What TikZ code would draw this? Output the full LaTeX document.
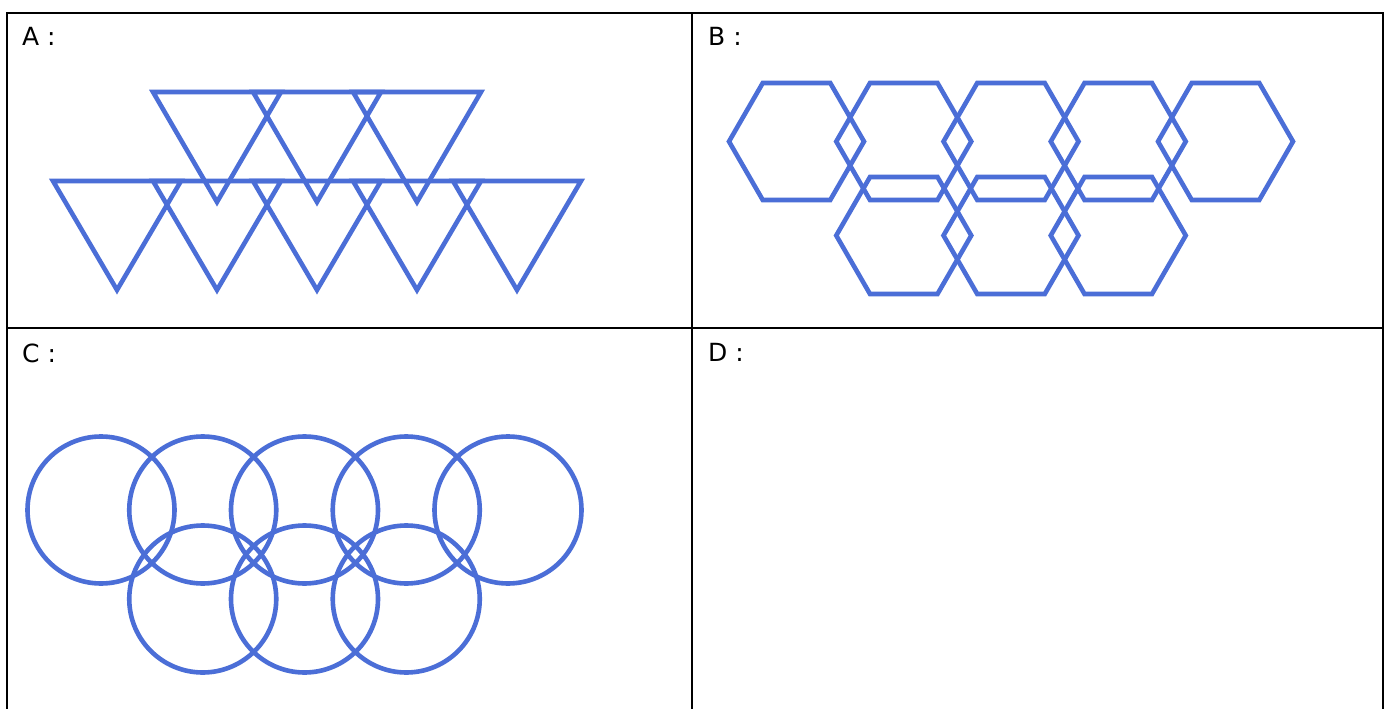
\documentclass[tikz,border=0pt]{standalone}
\usepackage{fontspec}
\setmainfont{DejaVu Sans}
\definecolor{shapeblue}{RGB}{75,110,215}
\begin{document}
\begin{tikzpicture}[x=1pt,y=-1pt,
  figline/.style={draw=shapeblue,line width=4.6pt,line join=miter},
  gridline/.style={draw=black,line width=2pt},
  lab/.style={anchor=base west,inner sep=0pt,font=\fontsize{25}{25}\selectfont}]
\useasboundingbox (0,0) rectangle (1390,709);
\fill[white] (0,0) rectangle (1390,709);
% table
\coordinate (tl) at (7,13); \coordinate (tr) at (1383,13);
\coordinate (bl) at (7,709); \coordinate (br) at (1383,709);
\coordinate (tm) at (692,13); \coordinate (bm) at (692,709);
\coordinate (ml) at (7,328); \coordinate (mr) at (1383,328);
\draw[gridline] (bl) -- (tl) -- (tr) -- (br);
\draw[gridline] (tm) -- (bm);
\draw[gridline] (ml) -- (mr);
% labels
\node[lab] (la) at (22,46) {A :};
\node[lab] (lb) at (708,46) {B :};
\node[lab] (lc) at (22,362) {C :};
\node[lab] (ld) at (708,361) {D :};
% A: triangles
\foreach \c in {217,317,417}
  \draw[figline] (\c-64,92) -- (\c+64,92) -- (\c,202) -- cycle;
\foreach \c in {117,217,317,417,517}
  \draw[figline] (\c-64,181) -- (\c+64,181) -- (\c,290) -- cycle;
% B: hexagons
\foreach \cx/\cy in {796.5/141.5,903.75/141.5,1011/141.5,1118.25/141.5,1225.5/141.5,903.75/235.5,1011/235.5,1118.25/235.5}
  \draw[figline] (\cx+67.5,\cy) -- (\cx+33.75,\cy-58.5) -- (\cx-33.75,\cy-58.5) -- (\cx-67.5,\cy) -- (\cx-33.75,\cy+58.5) -- (\cx+33.75,\cy+58.5) -- cycle;
% C: circles
\foreach \cx/\cy in {101/510,202.75/510,304.5/510,406.25/510,508/510,202.75/599,304.5/599,406.25/599}
  \draw[figline] (\cx,\cy) circle (73.5);
\end{tikzpicture}
\end{document}
